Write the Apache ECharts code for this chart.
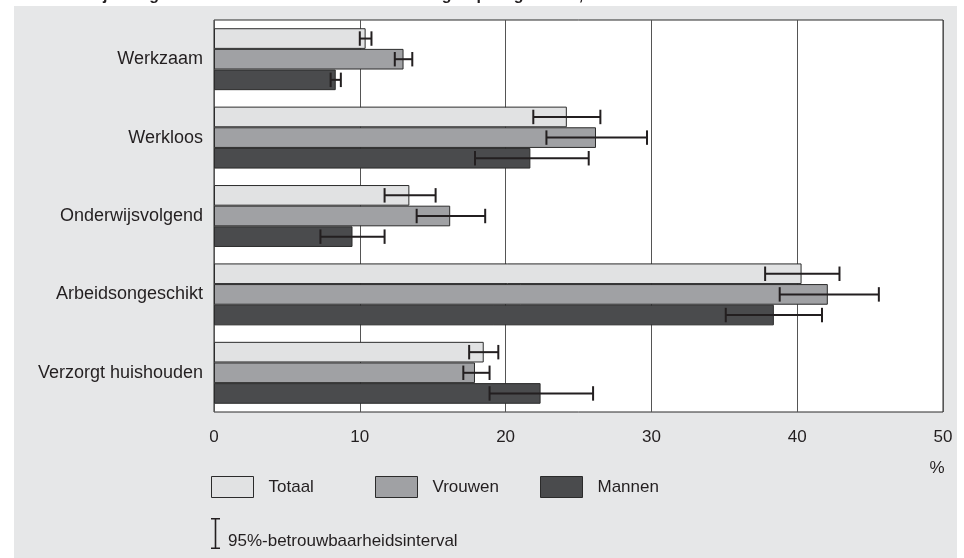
<!DOCTYPE html>
<html>
<head>
<meta charset="utf-8">
<script src="https://cdn.jsdelivr.net/npm/echarts@6/dist/echarts.min.js"></script>
<style>
html,body{margin:0;padding:0;background:#fff;}
#chart{width:964px;height:558px;}
</style>
</head>
<body>
<div id="chart"></div>
<script>
var categories = ['Werkzaam', 'Werkloos', 'Onderwijsvolgend', 'Arbeidsongeschikt', 'Verzorgt huishouden'];
var seriesNames = ['Totaal', 'Vrouwen', 'Mannen'];
var totaal  = [10.4, 24.2, 13.4, 40.3, 18.5];
var vrouwen = [13.0, 26.2, 16.2, 42.1, 17.9];
var mannen  = [8.35, 21.7, 9.5, 38.4, 22.4];
var totaalLo  = [10.0, 21.9, 11.7, 37.8, 17.5];
var totaalHi  = [10.8, 26.5, 15.2, 42.9, 19.5];
var vrouwenLo = [12.4, 22.8, 13.9, 38.8, 17.1];
var vrouwenHi = [13.6, 29.7, 18.6, 45.6, 18.9];
var mannenLo  = [8.0, 17.9, 7.3, 35.1, 18.9];
var mannenHi  = [8.7, 25.7, 11.7, 41.7, 26.0];
var xTicks = [0, 10, 20, 30, 40, 50];
var titleText = '10. Geestelijke ongezondheid naar sociaaleconomische groep en geslacht, 2004/2005';
var ciName = '95%-betrouwbaarheidsinterval';

var FONT = "'Liberation Sans', Arial, Helvetica, sans-serif";
var TXT = '#231f20';
var colors = ['#e1e2e3', '#a0a1a4', '#4a4b4d'];
var catGap = 0.21;

var errData = [];
[[totaalLo, totaalHi], [vrouwenLo, vrouwenHi], [mannenLo, mannenHi]].forEach(function (pair, s) {
  for (var i = 0; i < categories.length; i++) {
    errData.push([i, s, pair[0][i], pair[1][i]]);
  }
});

function barSeries(name, data, idx) {
  return {
    name: name, type: 'bar', data: data,
    barCategoryGap: (catGap * 100) + '%', barGap: '0%',
    itemStyle: { color: colors[idx], borderColor: '#2b2b2b', borderWidth: 1 },
    emphasis: { disabled: true },
    z: 2
  };
}

var chart = echarts.init(document.getElementById('chart'), null, { renderer: 'canvas' });
var legendBase = {
  orient: 'horizontal', itemWidth: 42, itemHeight: 21, selectedMode: false, padding: 0,
  textStyle: { fontFamily: FONT, fontSize: 17, color: TXT, padding: [0, 0, 0, 10] },
  itemStyle: { borderColor: '#2b2b2b', borderWidth: 1 }
};
chart.setOption({
  animation: false,
  backgroundColor: 'transparent',
  textStyle: { fontFamily: FONT },
  graphic: [
    { type: 'rect', z: -100, shape: { x: 14, y: 6, width: 943, height: 552 }, style: { fill: '#e6e7e8' }, silent: true },
    { type: 'text', z: -50, x: 14, y: 4, style: { text: titleText, font: 'bold 16px ' + FONT, fill: TXT, verticalAlign: 'bottom' }, silent: true }
  ],
  grid: { left: 214, right: 21, top: 20, bottom: 146, show: true, backgroundColor: '#ffffff', borderColor: '#2b2b2b', borderWidth: 1 },
  xAxis: {
    type: 'value', min: xTicks[0], max: xTicks[xTicks.length - 1], interval: 10,
    axisLine: { show: false }, axisTick: { show: false },
    splitLine: { show: true, lineStyle: { color: '#555', width: 1 } },
    axisLabel: { margin: 17, fontSize: 17, color: TXT, fontFamily: FONT },
    name: '%', nameLocation: 'end', nameGap: -6,
    nameTextStyle: { fontSize: 17, color: TXT, fontFamily: FONT, verticalAlign: 'top', align: 'center', padding: [48, 0, 0, 0] }
  },
  yAxis: {
    type: 'category', data: categories, inverse: true,
    axisLine: { show: false }, axisTick: { show: false },
    axisLabel: { margin: 11, fontSize: 18, color: TXT, fontFamily: FONT }
  },
  legend: [
    Object.assign({}, legendBase, { data: [{ name: 'Totaal', icon: 'rect' }], left: 211, top: 476 }),
    Object.assign({}, legendBase, { data: [{ name: 'Vrouwen', icon: 'rect' }], left: 375, top: 476 }),
    Object.assign({}, legendBase, { data: [{ name: 'Mannen', icon: 'rect' }], left: 540, top: 476 }),
    {
      data: [{ name: ciName, icon: 'path://M0,0h9v1.6h-9z M3.7,0h1.6v31h-1.6z M0,29.4h9v1.6h-9z' }],
      left: 211, top: 518, itemWidth: 9, itemHeight: 31, selectedMode: false, padding: 0,
      itemStyle: { color: TXT, borderWidth: 0 },
      formatter: '{t|{name}}',
      textStyle: {
        fontFamily: FONT, fontSize: 17, color: TXT,
        rich: { t: { fontFamily: FONT, fontSize: 17, color: TXT, padding: [16, 0, 0, 3] } }
      }
    }
  ],
  series: [
    barSeries('Totaal', totaal, 0),
    barSeries('Vrouwen', vrouwen, 1),
    barSeries('Mannen', mannen, 2),
    {
      name: ciName, type: 'custom', data: errData, z: 5,
      itemStyle: { color: TXT },
      encode: { x: [2, 3], y: 0 },
      renderItem: function (params, api) {
        var cat = api.value(0), s = api.value(1), lo = api.value(2), hi = api.value(3);
        var band = api.size([0, 1])[1];
        var bw = band * (1 - catGap) / 3;
        var c = api.coord([0, cat]);
        var y = c[1] + (s - 1) * bw;
        var p1 = api.coord([lo, cat]), p2 = api.coord([hi, cat]);
        var cap = bw * 0.7;
        var st = { stroke: '#231f20', lineWidth: 2 };
        return {
          type: 'group', children: [
            { type: 'line', shape: { x1: p1[0], y1: y, x2: p2[0], y2: y }, style: st },
            { type: 'line', shape: { x1: p1[0], y1: y - cap / 2, x2: p1[0], y2: y + cap / 2 }, style: st },
            { type: 'line', shape: { x1: p2[0], y1: y - cap / 2, x2: p2[0], y2: y + cap / 2 }, style: st }
          ]
        };
      }
    }
  ]
});
</script>
</body>
</html>
